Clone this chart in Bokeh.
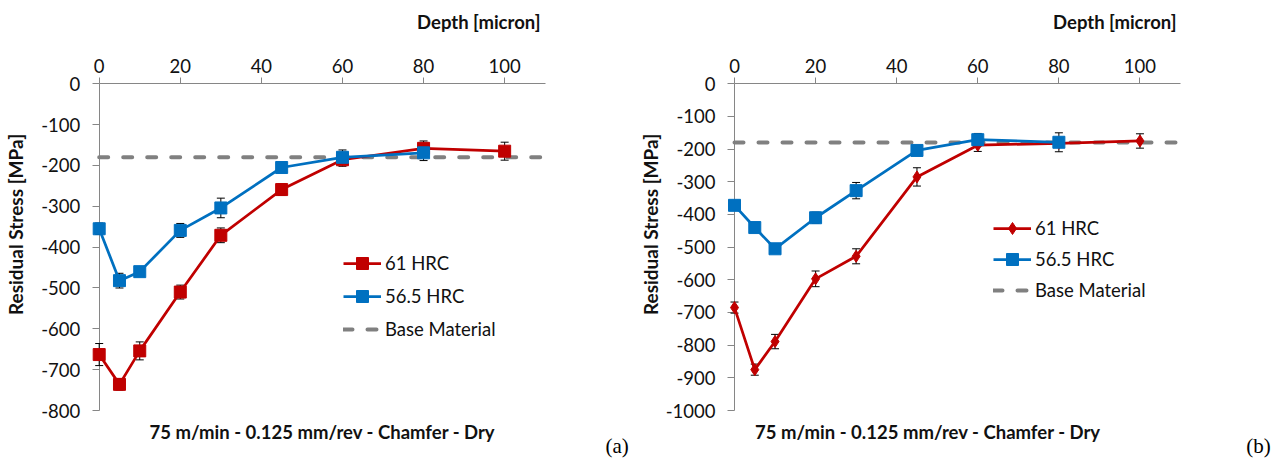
from math import pi
from bokeh.plotting import figure
from bokeh.models import (ColumnDataSource, Whisker, TeeHead, Label, Legend,
                          LegendItem, FixedTicker)
from bokeh.layouts import row
from bokeh.embed import file_html
from bokeh.resources import INLINE

# ---------------- data ----------------
depth_61 = [0, 5, 10, 20, 30, 45, 60, 80, 100]
depth_565 = [0, 5, 10, 20, 30, 45, 60, 80]

stress_a_61 = [-663, -736, -654, -510, -371, -259, -186, -158, -165]
err_a_61 = [27, 14, 22, 17, 18, 14, 16, 18, 22]
stress_a_565 = [-355, -482, -460, -359, -304, -205, -180, -169]
err_a_565 = [14, 18, 8, 17, 24, 6, 18, 19]
base_a = -180

stress_b_61 = [-685, -875, -789, -597, -528, -285, -188, -182, -175]
err_b_61 = [17, 17, 22, 24, 23, 28, 19, 8, 22]
stress_b_565 = [-372, -440, -505, -410, -327, -204, -171, -179]
err_b_565 = [6, 8, 6, 17, 25, 6, 19, 29]
base_b = -180

x_ticks = [0, 20, 40, 60, 80, 100]
x_max = 110
y_ticks_a = list(range(-800, 1, 100))
y_ticks_b = list(range(-1000, 1, 100))

series_names = ["61 HRC", "56.5 HRC", "Base Material"]
x_title = "Depth [micron]"
y_title = "Residual Stress [MPa]"
cond_title = "75 m/min - 0.125 mm/rev - Chamfer - Dry"

RED = "#C00000"
BLUE = "#0070C0"
GRAY = "#808080"
FONT = "Lato"
FS = "18.5px"
AXC = "#868686"
TXT = "#111111"
H = 458
TOP = 83.3          # canvas y of the data value 0
PLOT_H = 326.7      # pixel height of the 0..ymin data area
PLOT_W = 446        # pixel width of the 0..110 data area


def panel(stress61, err61, stress565, err565, base, yticks, marker61,
          width, left, legend_px, legend_spacing, tag, tag_px,
          xtitle_px, cond_px, ytitle_px):
    """left: canvas x of depth 0; *_px: canvas pixel positions of texts."""
    ymin = yticks[0]
    ppx = PLOT_W / x_max
    ppy = PLOT_H / (-ymin)

    def dx(px):
        return (px - left) / ppx

    def dy(py):
        return (TOP - py) / ppy

    p = figure(width=width, height=H, x_range=(dx(0), dx(width)),
               y_range=(dy(H), dy(0)), x_axis_location="above",
               output_backend="svg", toolbar_location=None, title=None,
               min_border_left=0, min_border_right=0, min_border_top=0,
               min_border_bottom=0)
    p.outline_line_color = None
    p.grid.visible = False

    ax = p.xaxis[0]
    ax.fixed_location = 0
    ax.level = "underlay"
    ax.ticker = FixedTicker(ticks=x_ticks)
    ax.bounds = (0, x_max)
    ax.axis_line_color = AXC
    ax.major_tick_line_color = AXC
    ax.major_tick_out = 6
    ax.major_tick_in = 0
    ax.minor_tick_line_color = None
    ax.major_label_text_font = FONT
    ax.major_label_text_font_size = FS
    ax.major_label_text_color = TXT
    ax.major_label_standoff = 5

    ay = p.yaxis[0]
    ay.fixed_location = 0
    ay.level = "underlay"
    ay.ticker = FixedTicker(ticks=yticks)
    ay.bounds = (ymin, 0)
    ay.major_label_overrides = {t: str(t) for t in yticks}
    ay.axis_line_color = AXC
    ay.major_tick_line_color = AXC
    ay.major_tick_out = 7
    ay.major_tick_in = 0
    ay.minor_tick_line_color = None
    ay.major_label_text_font = FONT
    ay.major_label_text_font_size = FS
    ay.major_label_text_color = TXT
    ay.major_label_standoff = 12

    # base material
    lb = p.line([0, x_max], [base, base], line_color=GRAY, line_width=4,
                line_dash="9 15", line_cap="round")

    # error bars
    s61 = ColumnDataSource(dict(x=depth_61, y=stress61,
                                lo=[v - e for v, e in zip(stress61, err61)],
                                up=[v + e for v, e in zip(stress61, err61)]))
    s565 = ColumnDataSource(dict(x=depth_565, y=stress565,
                                 lo=[v - e for v, e in zip(stress565, err565)],
                                 up=[v + e for v, e in zip(stress565, err565)]))
    for src in (s61, s565):
        w = Whisker(source=src, base="x", upper="up", lower="lo",
                    dimension="height", line_color="black", line_width=1,
                    level="underlay",
                    upper_head=TeeHead(size=8, line_color="black", line_width=1),
                    lower_head=TeeHead(size=8, line_color="black", line_width=1))
        p.add_layout(w)

    l61 = p.line("x", "y", source=s61, line_color=RED, line_width=2.75)
    m61 = p.scatter("x", "y", source=s61, marker=marker61, size=12,
                    fill_color=RED, line_color=RED)
    l565 = p.line("x", "y", source=s565, line_color=BLUE, line_width=2.75)
    m565 = p.scatter("x", "y", source=s565, marker="square", size=12,
                     fill_color=BLUE, line_color=BLUE)

    leg = Legend(items=[LegendItem(label=series_names[0], renderers=[l61, m61]),
                        LegendItem(label=series_names[1], renderers=[l565, m565]),
                        LegendItem(label=series_names[2], renderers=[lb])],
                 location=(legend_px[0], H - legend_px[1]), glyph_width=38,
                 glyph_height=30, label_standoff=4, spacing=legend_spacing,
                 padding=0, margin=0, border_line_color=None,
                 background_fill_alpha=0, label_text_font=FONT,
                 label_text_font_size=FS, label_text_color=TXT,
                 label_height=22)
    p.add_layout(leg)

    p.add_layout(Label(x=dx(xtitle_px[0]), y=dy(xtitle_px[1]), text=x_title,
                       text_font=FONT, text_font_style="bold",
                       text_font_size=FS, text_align="right",
                       text_baseline="middle", text_color=TXT))
    p.add_layout(Label(x=dx(ytitle_px[0]), y=dy(ytitle_px[1]), text=y_title,
                       text_font=FONT, text_font_style="bold",
                       text_font_size="19px", text_align="center",
                       text_baseline="middle", angle=pi / 2, text_color=TXT))
    p.add_layout(Label(x=dx(cond_px[0]), y=dy(cond_px[1]), text=cond_title,
                       text_font=FONT, text_font_style="bold",
                       text_font_size=FS, text_align="center",
                       text_baseline="middle", text_color=TXT))
    p.add_layout(Label(x=dx(tag_px[0]), y=dy(tag_px[1]), text=tag,
                       text_font="Liberation Serif", text_font_size="21px",
                       text_align="center", text_baseline="middle",
                       text_color="black"))
    return p


# left panel: canvas 0..638, right panel: canvas 638..1280
pa = panel(stress_a_61, err_a_61, stress_a_565, err_a_565, base_a, y_ticks_a,
           "square", 638, 98.7, (343, 344), 3, "(a)", (616.7, 445),
           (540, 21.7), (322, 431.7), (15, 224))
pb = panel(stress_b_61, err_b_61, stress_b_565, err_b_565, base_b, y_ticks_b,
           "diamond", 642, 96, (355, 305), 1, "(b)", (620, 445),
           (538, 21.7), (289.5, 431.7), (12, 224))

layout = row(pa, pb)
open("out.html", "w").write(file_html(layout, INLINE))
